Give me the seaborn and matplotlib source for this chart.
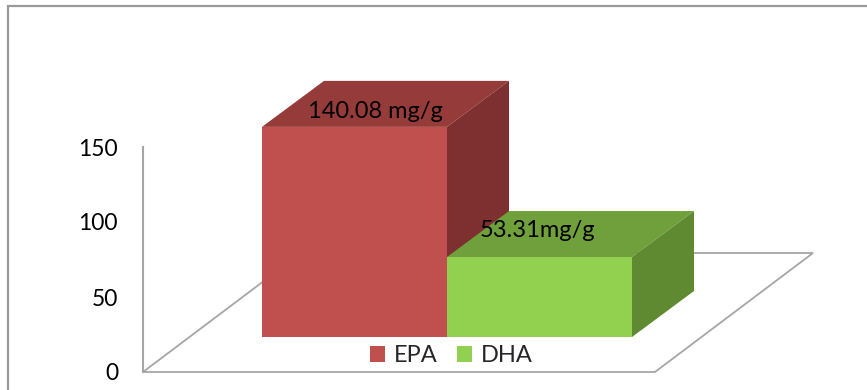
import matplotlib
matplotlib.use("Agg")
import matplotlib.pyplot as plt
import seaborn as sns
import pandas as pd
from matplotlib.patches import Polygon, Rectangle, Patch

# Fatty-acid content
acids = ["EPA", "DHA"]
content = [140.08, 53.31]
value_labels = ["140.08 mg/g", "53.31mg/g"]
yticks = [0, 50, 100, 150]

# Face shading of each bar (front / top / side)
front_colors = ["#C0504D", "#92D050"]
top_colors = ["#953B39", "#70A03C"]
side_colors = ["#7D302F", "#5F8A31"]

# label nudges in points (dx, dy from the front top edge of each bar)
label_offsets = [(14.8, 6.7), (-1.4, 14.6)]

sns.set_theme(style="white")
plt.rcParams["font.family"] = ["Lato", "DejaVu Sans"]

W, H = 867, 390
PX_X = 185.0   # pixels per category unit
PX_Y = 1.5     # pixels per value unit

fig = plt.figure(figsize=(W / 100, H / 100), dpi=100)
ax = fig.add_axes([143 / W, 0, 1 - 143 / W, 1])

df = pd.DataFrame({"acid": acids, "content": content})

# oblique projection offsets, expressed in data units
lift = (46.7 / PX_X, 35 / PX_Y)        # front plane of the bars above the floor front
depth = (62 / PX_X, 46 / PX_Y)         # depth of a bar
floor_depth = (158 / PX_X, 119 / PX_Y)

sns.barplot(data=df, x="acid", y="content", hue="acid", palette=front_colors,
            width=1.0, saturation=1, legend=False, linewidth=0,
            bottom=lift[1], ax=ax)

x_left = -0.5 - (262 - 143) / PX_X
x_right = -0.5 + (W - 262) / PX_X
ax.set_xlim(x_left, x_right)
ax.set_ylim(-(H - 372) / PX_Y, 372 / PX_Y)

# floor of the plot area
floor_right = -0.5 + (655 - 262) / PX_X
floor = Polygon([(x_left, 0), (floor_right, 0),
                 (floor_right + floor_depth[0], floor_depth[1]),
                 (x_left + floor_depth[0], floor_depth[1])],
                closed=True, fill=False, ec="#A6A6A6", lw=1.3, zorder=1,
                clip_on=False)
ax.add_patch(floor)

# top and side faces of each bar
bars = list(ax.patches)[:len(acids)]
for i, bar in enumerate(bars):
    bar.set_zorder(2 + i)
    x0 = bar.get_x()
    x1 = x0 + bar.get_width()
    y0 = bar.get_y()
    y1 = y0 + bar.get_height()
    dx, dy = depth
    top = Polygon([(x0, y1), (x1, y1), (x1 + dx, y1 + dy), (x0 + dx, y1 + dy)],
                  closed=True, fc=top_colors[i], ec="none", zorder=2 + i)
    side = Polygon([(x1, y0), (x1 + dx, y0 + dy), (x1 + dx, y1 + dy), (x1, y1)],
                   closed=True, fc=side_colors[i], ec="none", zorder=2 + i)
    ax.add_patch(top)
    ax.add_patch(side)
    ax.annotate(value_labels[i], xy=(x0 + bar.get_width() / 2, y1),
                xytext=label_offsets[i], textcoords="offset points",
                ha="center", va="baseline", fontsize=17, color="black",
                zorder=10)

# value axis
ax.set_yticks(yticks)
ax.set_yticklabels([str(t) for t in yticks])
ax.tick_params(axis="y", length=0, pad=18, labelsize=16.5, labelcolor="black")
ax.set_xticks([])
ax.set_xlabel("")
ax.set_ylabel("")
for name in ["top", "right", "bottom"]:
    ax.spines[name].set_visible(False)
ax.spines["left"].set_bounds(0, 150)
ax.spines["left"].set_color("#A6A6A6")
ax.spines["left"].set_linewidth(1.5)
ax.patch.set_alpha(0)

# legend
handles = [Patch(fc=c, ec="none") for c in front_colors]
fig.legend(handles, acids, loc="center", bbox_to_anchor=(451 / W, 1 - 356 / H),
           ncol=2, frameon=False, fontsize=17, handlelength=0.65,
           handleheight=0.65, handletextpad=0.36, columnspacing=0.82,
           borderpad=0, borderaxespad=0)

# chart border
fig.patches.append(Rectangle((8 / W, -0.2), 1.2, 1.2 - 6 / H,
                             transform=fig.transFigure, fill=False,
                             ec="#999999", lw=1.6, zorder=0))

fig.savefig("out.png", dpi=100)
